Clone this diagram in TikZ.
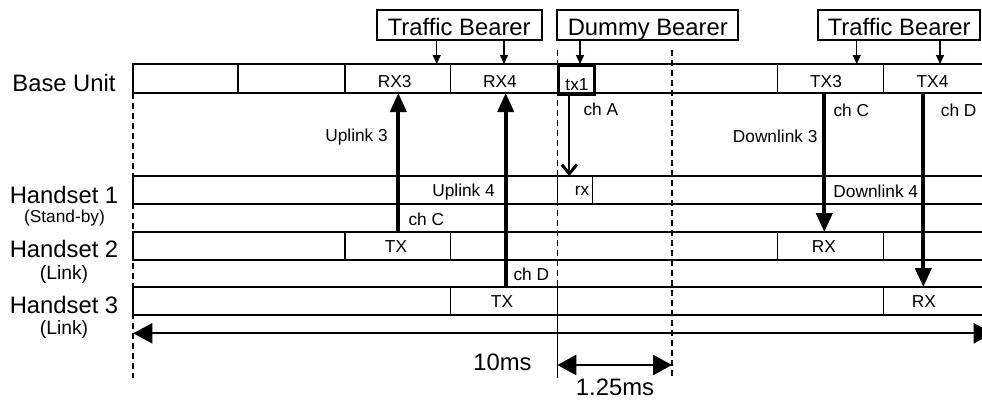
\documentclass[tikz,border=0pt]{standalone}
\usepackage{fontspec}
\setmainfont{Liberation Sans}
\usetikzlibrary{arrows.meta}
\begin{document}
\begin{tikzpicture}[x=1pt,y=-1pt,
  big/.style={font=\fontsize{23.8}{28}\selectfont, inner sep=0pt},
  mid/.style={font=\fontsize{19.3}{23}\selectfont, inner sep=0pt},
  small/.style={font=\fontsize{17.3}{20}\selectfont, inner sep=0pt},
  bar/.style={line width=1.3pt},
  dashline/.style={line width=1.4pt, dash pattern=on 6pt off 4pt},
  bearer/.style={draw, line width=2pt, inner sep=0pt, minimum height=30pt,
     text height=20pt, text depth=0pt, font=\fontsize{23.8}{28}\selectfont},
  bearerarrow/.style={line width=1.4pt, -{Triangle[length=9pt,width=8pt]}},
  linkarrow/.style={line width=4pt, -{Triangle[length=19pt,width=16pt]}},
  thinarrow/.style={line width=2.2pt, -{Straight Barb[length=9pt,width=15pt,line width=3pt]}},
  spanarrow/.style={line width=2.5pt, {Triangle[length=19pt,width=20pt]}-{Triangle[length=19pt,width=20pt]}},
]
\useasboundingbox (0,0) rectangle (982,399);
\clip (0,0) rectangle (982,399);

% ---------- bars ----------
% Base unit
\draw[bar] (990,64) -- (133,64) -- (133,93) -- (990,93);
\foreach \x in {238,345,450.7,777.7,883.3} \draw[bar] (\x,64) -- (\x,93);
% Handset 1
\draw[bar] (990,176) -- (133,176) -- (133,204) -- (990,204);
\foreach \x in {557.3,592.7} \draw[bar] (\x,176) -- (\x,204);
% Handset 2
\draw[bar] (990,232) -- (133,232) -- (133,260) -- (990,260);
\foreach \x in {345,450.7,777.7,883.3} \draw[bar] (\x,232) -- (\x,260);
% Handset 3
\draw[bar] (990,287) -- (133,287) -- (133,315) -- (990,315);
\foreach \x in {450.7,557.3,883.3} \draw[bar] (\x,287) -- (\x,315);

% ---------- dashed guides ----------
\coordinate (dl1) at (133,93);   \coordinate (dl2) at (133,378);
\coordinate (dm1) at (557.3,50); \coordinate (dm2) at (557.3,287); \coordinate (dm3) at (557.3,378);
\coordinate (dr1) at (672,50);   \coordinate (dr2) at (672,376);
\draw[dashline] (dl1) -- (dl2);
\draw[dashline] (dm1) -- (dm2);
\draw[line width=1.4pt] (dm2) -- (dm3);
\draw[dashline] (dr1) -- (dr2);

% ---------- tx1 box ----------
\node[draw, line width=3pt, minimum width=35.4pt, minimum height=29pt, inner sep=0pt, anchor=north west] (tx1box) at (557.3,64) {};

% ---------- bearer boxes ----------
\node[bearer, minimum width=165pt] (tbl) at (459.2,25) {Traffic Bearer};
\node[bearer, minimum width=181pt] (db) at (647.8,25) {Dummy Bearer};
\node[bearer, minimum width=161.7pt] (tbr) at (899.2,25) {Traffic Bearer};

\foreach \n/\x in {a/436.7,b/504,c/580,d/856.7,e/940}{
  \coordinate (bs\n) at (\x,40);
  \coordinate (be\n) at (\x,64);
  \draw[bearerarrow] (bs\n) -- (be\n);
}

% ---------- slot labels ----------
\node[small, anchor=base] (rx3) at (394.7,87.3) {RX3};
\node[small, anchor=base] (rx4) at (500,87.3) {RX4};
\node[small, anchor=base] (tx3) at (826,87.3) {TX3};
\node[small, anchor=base] (tx4) at (932.5,87.3) {TX4};
\node[small, anchor=base] (tx1) at (577,90) {tx1};
\node[small, anchor=base] (rx1) at (582,195) {rx};
\node[small, anchor=base] (h2tx) at (396,252) {TX};
\node[small, anchor=base] (h2rx) at (824,252) {RX};
\node[small, anchor=base] (h3tx) at (502,307.5) {TX};
\node[small, anchor=base] (h3rx) at (924,307.5) {RX};

% ---------- row labels ----------
\node[big, anchor=base] (lbu) at (64,91.7) {Base Unit};
\node[big, anchor=base] (lh1) at (64,203) {Handset 1};
\node[small, anchor=base] (lh1s) at (64.5,222.5) {(Stand-by)};
\node[big, anchor=base] (lh2) at (64,257.3) {Handset 2};
\node[mid, anchor=base] (lh2s) at (64,279) {(Link)};
\node[big, anchor=base] (lh3) at (64,313) {Handset 3};
\node[mid, anchor=base] (lh3s) at (64,334) {(Link)};

% ---------- link arrows ----------
\coordinate (u3a) at (398.3,232); \coordinate (u3b) at (398.3,93);
\coordinate (u4a) at (505.7,287); \coordinate (u4b) at (505.7,93);
\coordinate (caa) at (569.3,93);  \coordinate (cab) at (569.3,176);
\coordinate (d3a) at (824.3,93);  \coordinate (d3b) at (824.3,232);
\coordinate (d4a) at (923.3,93);  \coordinate (d4b) at (923.3,287);
\draw[linkarrow] (u3a) -- (u3b);
\draw[linkarrow] (u4a) -- (u4b);
\draw[thinarrow] (caa) -- (cab);
\draw[linkarrow] (d3a) -- (d3b);
\draw[linkarrow] (d4a) -- (d4b);

% ---------- link labels ----------
\node[small, anchor=base east] (lu3) at (388,141.7) {Uplink 3};
\node[small, anchor=base east] (lu4) at (495,196) {Uplink 4};
\node[small, anchor=base west] (lc1) at (408.3,225) {ch C};
\node[small, anchor=base west] (ld1) at (513.3,280) {ch D};
\node[small, anchor=base west] (lca) at (583.3,115) {ch A};
\node[small, anchor=base east] (ld3) at (817.7,142.3) {Downlink 3};
\node[small, anchor=base west] (lc2) at (833.3,116.7) {ch C};
\node[small, anchor=base west] (ld2) at (940.7,116.7) {ch D};
\node[small, anchor=base east] (ld4) at (918.3,197.3) {Downlink 4};

% ---------- time spans ----------
\coordinate (tl) at (133.3,333.3); \coordinate (tr) at (992.7,333.3);
\draw[spanarrow, line width=2.2pt] (tl) -- (tr);
\coordinate (sl) at (557.3,365); \coordinate (sr) at (672,365);
\draw[spanarrow] (sl) -- (sr);
\node[big, anchor=base] (t10) at (502.5,370.7) {10ms};
\node[big, anchor=base] (t125) at (615,395) {1.25ms};
\end{tikzpicture}
\end{document}
